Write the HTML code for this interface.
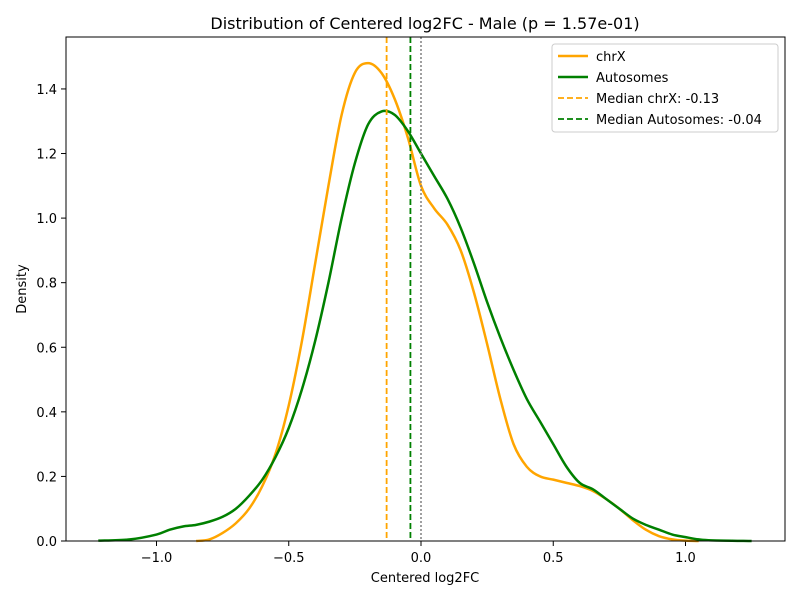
<!DOCTYPE html>
<html><head><meta charset="utf-8"><style>
body{margin:0;background:#fff;font-family:"Liberation Sans","DejaVu Sans",sans-serif}
svg text{font-family:"DejaVu Sans","Liberation Sans",sans-serif}
</style></head><body>
<svg id="chart" width="800" height="600" xmlns="http://www.w3.org/2000/svg">
<rect width="800" height="600" fill="#fff"/>
<text x="425" y="29" font-size="16" text-anchor="middle">Distribution of Centered log2FC - Male (p = 1.57e-01)</text>
<g id="plot"></g>
<rect x="66" y="37" width="719" height="504" fill="none" stroke="#000" stroke-width="1"/>
<text x="425" y="582" font-size="13" text-anchor="middle">Centered log2FC</text>
<text x="26" y="289" font-size="13" text-anchor="middle" transform="rotate(-90 26 289)">Density</text>
<g>
<rect x="552" y="44" width="226" height="88" fill="#fff" stroke="#ccc" rx="3"/>
<line x1="558" y1="56" x2="588" y2="56" stroke="orange" stroke-width="2.5"/>
<text x="596" y="61" font-size="13">chrX</text>
<line x1="558" y1="77" x2="588" y2="77" stroke="green" stroke-width="2.5"/>
<text x="596" y="82" font-size="13">Autosomes</text>
<line x1="558" y1="98" x2="588" y2="98" stroke="orange" stroke-width="1.8" stroke-dasharray="6,3"/>
<text x="596" y="103" font-size="13">Median chrX: -0.13</text>
<line x1="558" y1="119" x2="588" y2="119" stroke="green" stroke-width="1.8" stroke-dasharray="6,3"/>
<text x="596" y="124" font-size="13">Median Autosomes: -0.04</text>
</g>
</svg>
<script>
const xTicks=[-1.0,-0.5,0.0,0.5,1.0];
const yTicks=[0.0,0.2,0.4,0.6,0.8,1.0,1.2,1.4];
const chrXx=[-0.85,-0.8,-0.75,-0.7,-0.65,-0.6,-0.55,-0.5,-0.45,-0.4,-0.35,-0.3,-0.25,-0.2,-0.15,-0.1,-0.05,0,0.05,0.1,0.15,0.2,0.25,0.3,0.35,0.4,0.45,0.5,0.55,0.6,0.65,0.7,0.75,0.8,0.85,0.9,0.95,1.0,1.05];
const chrXy=[0,0.005,0.025,0.055,0.1,0.17,0.27,0.42,0.62,0.86,1.1,1.32,1.45,1.48,1.45,1.37,1.25,1.1,1.03,0.98,0.9,0.77,0.61,0.44,0.3,0.23,0.2,0.19,0.18,0.17,0.155,0.13,0.1,0.065,0.035,0.015,0.005,0.001,0];
const autoX=[-1.22,-1.1,-1.0,-0.95,-0.9,-0.85,-0.8,-0.75,-0.7,-0.65,-0.6,-0.55,-0.5,-0.45,-0.4,-0.35,-0.3,-0.25,-0.2,-0.15,-0.1,-0.05,0,0.05,0.1,0.15,0.2,0.25,0.3,0.35,0.4,0.45,0.5,0.55,0.6,0.65,0.7,0.75,0.8,0.85,0.9,0.95,1.0,1.05,1.1,1.25];
const autoY=[0.001,0.005,0.02,0.035,0.045,0.05,0.06,0.075,0.1,0.14,0.19,0.26,0.35,0.47,0.62,0.8,1.0,1.17,1.29,1.33,1.32,1.27,1.2,1.13,1.06,0.97,0.86,0.74,0.63,0.53,0.44,0.37,0.3,0.23,0.18,0.16,0.13,0.1,0.07,0.05,0.035,0.02,0.012,0.005,0.002,0];
const medians=[-0.13,-0.04];
const sx=v=>421+v*264.5, sy=v=>541-v*322.9;
const NS='http://www.w3.org/2000/svg';
const g=document.getElementById('plot');
function mk(t,a){const e=document.createElementNS(NS,t);for(const k in a)e.setAttribute(k,a[k]);g.appendChild(e);return e;}
xTicks.forEach(v=>{
 const l=mk('line',{x1:sx(v),x2:sx(v),y1:541,y2:546,stroke:'#000'});
 
 
 const t=mk('text',{x:sx(v),y:562,'font-size':13,'text-anchor':'middle'});t.textContent=v.toFixed(1).replace('-','−');
 
 
});
yTicks.forEach(v=>{
 const l=mk('line',{x1:61,x2:66,y1:sy(v),y2:sy(v),stroke:'#000'});
 
 
 const t=mk('text',{x:57,y:sy(v)+5,'font-size':13,'text-anchor':'end'});t.textContent=v.toFixed(1);
 
 
});
function path(xs,ys){const p=xs.map((x,i)=>[sx(x),sy(ys[i])]);let d='M'+p[0];for(let i=0;i<p.length-1;i++){const p0=p[i-1]||p[i],p1=p[i],p2=p[i+1],p3=p[i+2]||p2;d+=' C'+(p1[0]+(p2[0]-p0[0])/6)+','+(p1[1]+(p2[1]-p0[1])/6)+' '+(p2[0]-(p3[0]-p1[0])/6)+','+(p2[1]-(p3[1]-p1[1])/6)+' '+p2;}return d;}
const c1=mk('path',{d:path(chrXx,chrXy),fill:'none',stroke:'orange','stroke-width':2.5});


const c2=mk('path',{d:path(autoX,autoY),fill:'none',stroke:'green','stroke-width':2.5});


const m1=mk('line',{x1:sx(medians[0]),x2:sx(medians[0]),y1:37,y2:541,stroke:'orange','stroke-width':1.8,'stroke-dasharray':'6,3'});


const m2=mk('line',{x1:sx(medians[1]),x2:sx(medians[1]),y1:37,y2:541,stroke:'green','stroke-width':1.8,'stroke-dasharray':'6,3'});


const z=mk('line',{x1:sx(0),x2:sx(0),y1:37,y2:541,stroke:'gray','stroke-width':1.5,'stroke-dasharray':'2,2'});


</script>
</body></html>
